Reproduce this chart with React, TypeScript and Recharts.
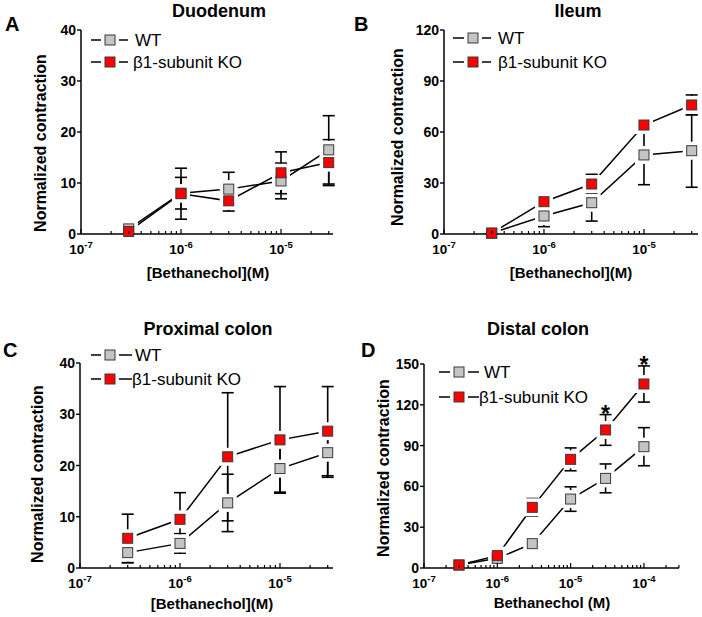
import * as React from 'react'
import { ComposedChart, Line, XAxis, YAxis, ErrorBar } from 'recharts'

const W = 702
const H = 617
const FONT = '"Liberation Sans", Arial, Helvetica, sans-serif'

// bethanechol concentrations (M)
const concABC = [3e-7, 1e-6, 3e-6, 1e-5, 3e-5]
const concD = [3e-7, 1e-6, 3e-6, 1e-5, 3e-5, 1e-4]

// A: duodenum
const duoWT = [1.0, 8.0, 8.8, 10.4, 16.5]
const duoWTErr = [0.4, 3.1, 3.3, 3.5, 6.7]
const duoKO = [0.5, 7.9, 6.5, 12.0, 14.0]
const duoKOErr = [0.4, 5.0, 2.0, 4.1, 4.5]

// B: ileum
const ileWT = [0.5, 10.6, 18.4, 46.5, 49.0]
const ileWTErr = [0.3, 6.3, 10.8, 17.5, 21.5]
const ileKO = [0.5, 19.0, 29.4, 64.1, 75.9]
const ileKOErr = [0.3, 4.5, 5.7, 3.0, 5.9]

// C: proximal colon
const proxWT = [3.0, 4.8, 12.7, 19.4, 22.5]
const proxWTErr = [2.0, 1.9, 5.6, 4.6, 4.8]
const proxKO = [5.8, 9.5, 21.7, 25.0, 26.7]
const proxKOErr = [4.7, 5.2, 12.5, 10.4, 8.7]

// D: distal colon
const distWT = [2.2, 7.1, 17.9, 50.7, 65.9, 89.2]
const distWTErr = [1.0, 3.0, 3.6, 9.0, 10.6, 14.0]
const distKO = [2.2, 9.1, 44.6, 79.9, 101.5, 135.3]
const distKOErr = [1.0, 3.0, 6.5, 8.4, 11.3, 13.3]
const distSig = [false, false, false, false, true, true]

const yTicks40 = [0, 10, 20, 30, 40]
const yTicks120 = [0, 30, 60, 90, 120]
const yTicks150 = [0, 30, 60, 90, 120, 150]
const decadesABC = [-7, -6, -5]
const decadesD = [-7, -6, -5, -4]
const seriesNames = ['WT', 'β1-subunit KO']

const GREY = '#c4c4c4'
const RED = '#ff0000'

const buildRows = (conc: number[], wt: number[], wtErr: number[], ko: number[], koErr: number[], sig?: boolean[]) =>
  conc.map((c, i) => ({
    conc: c,
    wt: wt[i],
    wtErr: wtErr[i],
    ko: ko[i],
    koErr: koErr[i],
    star: sig && sig[i] ? ko[i] + koErr[i] : null,
  }))

const logTicks = (decades: number[], max: number) => {
  const out: number[] = []
  decades.forEach((d) => {
    for (let m = 1; m <= 9; m++) {
      const v = m * Math.pow(10, d)
      if (v <= max * 1.001) out.push(v)
    }
  })
  return out
}

const XTick = (props: any) => {
  const { x, y, payload } = props
  const lg = Math.log10(payload.value)
  const major = Math.abs(lg - Math.round(lg)) < 1e-6
  return (
    <g>
      <line x1={x} x2={x} y1={y} y2={y - (major ? 5 : 3)} stroke="#000" strokeWidth={1.2} />
      {major && (
        <text x={x} y={y + 20} textAnchor="middle" fontFamily={FONT} fontWeight="bold" fontSize={13.5} fill="#000">
          10
          <tspan dy={-6} fontSize={9.5}>
            {Math.round(lg)}
          </tspan>
        </text>
      )}
    </g>
  )
}

const YTick = (props: any) => {
  const { x, y, payload } = props
  return (
    <g>
      <line x1={x - 4} x2={x} y1={y} y2={y} stroke="#000" strokeWidth={1.4} />
      <text x={x - 5} y={y + 5} textAnchor="end" fontFamily={FONT} fontWeight="bold" fontSize={14} fill="#000">
        {payload.value}
      </text>
    </g>
  )
}

const haloDot = (bottom: number) => (p: any) => {
  if (p.cy == null || p.cx == null) return <g key={`h${p.index}`} />
  const top = p.cy - 9
  const h = Math.min(p.cy + 9, bottom - 1) - top
  return <rect key={`h${p.index}`} x={p.cx - 9} y={top} width={18} height={h} fill="#fff" />
}

const markerDot = (fill: string) => (p: any) => {
  if (p.cy == null || p.cx == null) return <g key={`m${p.index}`} />
  return <rect key={`m${p.index}`} x={p.cx - 5} y={p.cy - 5} width={10} height={10} fill={fill} stroke="#3a3a3a" strokeWidth={1} />
}

const starDot = (p: any) => {
  if (p.cy == null || p.cx == null || p.value == null) return <g key={`s${p.index}`} />
  return (
    <text key={`s${p.index}`} x={p.cx} y={p.cy + 7} textAnchor="middle" fontFamily={FONT} fontWeight="bold" fontSize={23} fill="#000">
      *
    </text>
  )
}

interface PanelProps {
  rows: any[]
  xMax: number
  decades: number[]
  yTicks: number[]
  plot: { left: number; top: number; right: number; bottom: number }
}

const Panel = ({ rows, xMax, decades, yTicks, plot }: PanelProps) => {
  const yMax = yTicks[yTicks.length - 1]
  return (
    <div style={{ position: 'absolute', left: 0, top: 0 }}>
      <ComposedChart
        width={W}
        height={H}
        data={rows}
        margin={{ top: plot.top, left: plot.left - 40, right: W - plot.right, bottom: H - plot.bottom - 30 }}
      >
        <XAxis
          dataKey="conc"
          type="number"
          scale="log"
          domain={[1e-7, xMax]}
          ticks={logTicks(decades, xMax)}
          interval={0}
          height={30}
          tickSize={0}
          tickMargin={0}
          tickLine={false}
          tick={(p: any) => <XTick {...p} />}
          axisLine={{ stroke: '#000', strokeWidth: 1.5 }}
        />
        <YAxis
          type="number"
          domain={[0, yMax]}
          ticks={yTicks}
          interval={0}
          width={40}
          tickSize={0}
          tickMargin={0}
          tickLine={false}
          tick={(p: any) => <YTick {...p} />}
          axisLine={{ stroke: '#000', strokeWidth: 1.5 }}
        />
        <Line dataKey="wt" stroke="#000" strokeWidth={1.5} dot={false} isAnimationActive={false} />
        <Line dataKey="ko" stroke="#000" strokeWidth={1.5} dot={false} isAnimationActive={false} />
        <Line dataKey="wt" stroke="none" dot={haloDot(plot.bottom)} activeDot={false} isAnimationActive={false} />
        <Line dataKey="ko" stroke="none" dot={haloDot(plot.bottom)} activeDot={false} isAnimationActive={false} />
        <Line dataKey="wt" stroke="none" dot={markerDot(GREY)} activeDot={false} isAnimationActive={false} />
        <Line dataKey="ko" stroke="none" dot={markerDot(RED)} activeDot={false} isAnimationActive={false} />
        <Line dataKey="wt" stroke="none" dot={false} activeDot={false} isAnimationActive={false}>
          <ErrorBar dataKey="wtErr" direction="y" width={6} stroke="#000" strokeWidth={1.6} />
        </Line>
        <Line dataKey="ko" stroke="none" dot={false} activeDot={false} isAnimationActive={false}>
          <ErrorBar dataKey="koErr" direction="y" width={6} stroke="#000" strokeWidth={1.6} />
        </Line>
        <Line dataKey="star" stroke="none" dot={starDot} activeDot={false} isAnimationActive={false} />
      </ComposedChart>
    </div>
  )
}

const panels = [
  {
    key: 'A',
    title: 'Duodenum',
    rows: buildRows(concABC, duoWT, duoWTErr, duoKO, duoKOErr),
    xMax: 3.31e-5,
    decades: decadesABC,
    yTicks: yTicks40,
    plot: { left: 81, top: 30, right: 333, bottom: 234 },
    letter: [5, 31],
    titleAt: [219, 17],
    yLabelAt: [40, 143],
    xLabel: '[Bethanechol](M)',
    xLabelAt: [208, 278],
    legend: { x1: 91, x2: 128, mx: 110, y: [40, 62], tx: [135, 133] },
  },
  {
    key: 'B',
    title: 'Ileum',
    rows: buildRows(concABC, ileWT, ileWTErr, ileKO, ileKOErr),
    xMax: 3.47e-5,
    decades: decadesABC,
    yTicks: yTicks120,
    plot: { left: 444, top: 30, right: 698, bottom: 234 },
    letter: [354, 31],
    titleAt: [578, 17],
    yLabelAt: [397, 137],
    xLabel: '[Bethanechol](M)',
    xLabelAt: [571, 278],
    legend: { x1: 453, x2: 491, mx: 473, y: [38, 62], tx: [498, 498] },
  },
  {
    key: 'C',
    title: 'Proximal colon',
    rows: buildRows(concABC, proxWT, proxWTErr, proxKO, proxKOErr),
    xMax: 3.39e-5,
    decades: decadesABC,
    yTicks: yTicks40,
    plot: { left: 80, top: 363, right: 333, bottom: 568 },
    letter: [3, 357],
    titleAt: [208, 335],
    yLabelAt: [37, 474],
    xLabel: '[Bethanechol](M)',
    xLabelAt: [212, 609],
    legend: { x1: 91, x2: 132, mx: 110, y: [355, 379], tx: [135, 132] },
  },
  {
    key: 'D',
    title: 'Distal colon',
    rows: buildRows(concD, distWT, distWTErr, distKO, distKOErr, distSig),
    xMax: 3.01e-4,
    decades: decadesD,
    yTicks: yTicks150,
    plot: { left: 424, top: 364, right: 679, bottom: 568 },
    letter: [361, 357],
    titleAt: [538, 335],
    yLabelAt: [383, 468],
    xLabel: 'Bethanechol (M)',
    xLabelAt: [552, 608],
    legend: { x1: 439, x2: 479, mx: 459, y: [372, 397], tx: [484, 479] },
  },
]

const Annotations = () => (
  <svg width={W} height={H} style={{ position: 'absolute', left: 0, top: 0, pointerEvents: 'none' }}>
    {panels.map((p) => (
      <g key={p.key} fontFamily={FONT} fill="#000">
        <text x={p.letter[0]} y={p.letter[1]} fontSize={20} fontWeight="bold">
          {p.key}
        </text>
        <text x={p.titleAt[0]} y={p.titleAt[1]} fontSize={18} fontWeight="bold" textAnchor="middle">
          {p.title}
        </text>
        <text
          x={p.yLabelAt[0]}
          y={p.yLabelAt[1]}
          dy="0.35em"
          fontSize={16}
          fontWeight="bold"
          textAnchor="middle"
          transform={`rotate(-90 ${p.yLabelAt[0]} ${p.yLabelAt[1]})`}
        >
          Normalized contraction
        </text>
        <text x={p.xLabelAt[0]} y={p.xLabelAt[1]} fontSize={15} fontWeight="bold" textAnchor="middle">
          {p.xLabel}
        </text>
        {seriesNames.map((name, i) => {
          const lg = p.legend
          const y = lg.y[i]
          return (
            <g key={name}>
              <line x1={lg.x1} x2={lg.mx - 9} y1={y} y2={y} stroke="#000" strokeWidth={1.5} />
              <line x1={lg.mx + 9} x2={lg.x2} y1={y} y2={y} stroke="#000" strokeWidth={1.5} />
              <rect x={lg.mx - 5} y={y - 5} width={10} height={10} fill={i === 0 ? GREY : RED} stroke="#3a3a3a" strokeWidth={1} />
              <text x={lg.tx[i]} y={y + 6} fontSize={17}>
                {name}
              </text>
            </g>
          )
        })}
      </g>
    ))}
  </svg>
)

export default function App() {
  return (
    <div style={{ position: 'absolute', left: 0, top: 0, width: W, height: H, background: '#fff' }}>
      {panels.map((p) => (
        <Panel key={p.key} rows={p.rows} xMax={p.xMax} decades={p.decades} yTicks={p.yTicks} plot={p.plot} />
      ))}
      <Annotations />
    </div>
  )
}
